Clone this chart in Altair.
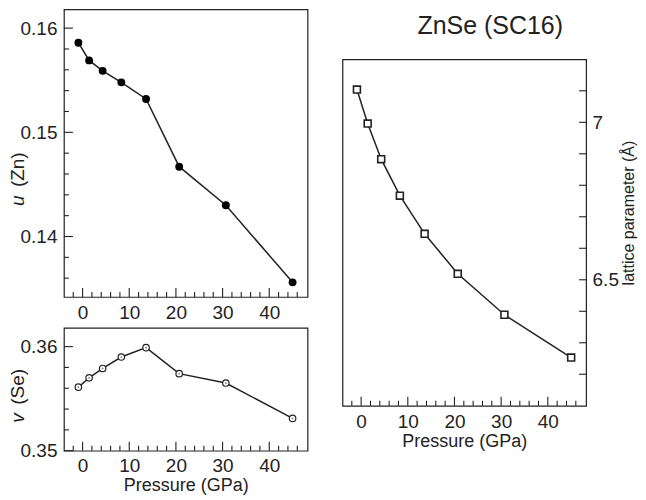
import altair as alt
import pandas as pd

# ---- data ----
pressure = [-0.9, 1.4, 4.3, 8.3, 13.6, 20.7, 30.7, 45.0]
u_zn = [0.1586, 0.1569, 0.1559, 0.1548, 0.1532, 0.1467, 0.1430, 0.1356]
v_se = [0.3561, 0.3570, 0.3579, 0.3590, 0.3599, 0.3574, 0.3565, 0.3531]
lattice = [7.104, 6.996, 6.883, 6.767, 6.646, 6.519, 6.389, 6.253]

x_major = [0, 10, 20, 30, 40]
x_minor = [-2, 2, 4, 6, 8, 12, 14, 16, 18, 22, 24, 26, 28, 32, 34, 36, 38, 42, 44, 46]
u_major = [0.14, 0.15, 0.16]
u_minor = [0.136, 0.138, 0.142, 0.144, 0.146, 0.148, 0.152, 0.154, 0.156, 0.158]
v_major = [0.35, 0.36]
v_minor = [0.352, 0.354, 0.356, 0.358]
a_major = [6.5, 7.0]
a_minor = [6.2, 6.3, 6.4, 6.6, 6.7, 6.8, 6.9, 7.1]

title_text = ["ZnSe (SC16)"]
x_title = "Pressure (GPa)"
u_sym, u_rest = ["u"], ["(Zn)"]
v_sym, v_rest = ["v"], ["(Se)"]
a_title = ["lattice parameter (Å)"]

INK = "#222222"
FONT = "Liberation Sans"
W = 244
H_TOP, H_BOT, H_RIGHT = 288, 123, 347

df = pd.DataFrame({"P": pressure, "u": u_zn, "v": v_se, "a": lattice})
xs = alt.Scale(domain=[-4, 48.2], nice=False, zero=False)


def ticks_df(vals):
    return pd.DataFrame({"t": vals})


def x_axis(title="", pad=7):
    return alt.Axis(values=x_major, format="d", ticks=False, tickSize=0, domain=False,
                    grid=False, labelPadding=pad, labelFlush=False, title=title,
                    titlePadding=1, titleFontSize=18)


def y_axis(values, fmt, orient="left", pad=7):
    return alt.Axis(values=values, format=fmt, orient=orient, ticks=False, tickSize=0,
                    domain=False, grid=False, labelPadding=pad, title="")


def x_ticks(height, xax):
    major = alt.Chart(ticks_df(x_major)).mark_rule(color=INK, strokeWidth=1.1).encode(
        x=alt.X("t:Q", scale=xs, axis=xax), y=alt.value(height), y2=alt.value(height - 9))
    minor = alt.Chart(ticks_df(x_minor)).mark_rule(color=INK, strokeWidth=1.1).encode(
        x=alt.X("t:Q", scale=xs, axis=xax), y=alt.value(height), y2=alt.value(height - 5))
    return [major, minor]


def y_ticks(majors, minors, ys, yax, left=True):
    x0 = 0 if left else W
    sgn = 1 if left else -1
    major = alt.Chart(ticks_df(majors)).mark_rule(color=INK, strokeWidth=1.1).encode(
        y=alt.Y("t:Q", scale=ys, axis=yax), x=alt.value(x0), x2=alt.value(x0 + sgn * (9 if left else 7)))
    minor = alt.Chart(ticks_df(minors)).mark_rule(color=INK, strokeWidth=1.1).encode(
        y=alt.Y("t:Q", scale=ys, axis=yax), x=alt.value(x0), x2=alt.value(x0 + sgn * (5 if left else 7)))
    return [major, minor]


def label(text, x, y, angle=270, align="left", size=19, style="normal"):
    return alt.Chart(pd.DataFrame({"s": text})).mark_text(
        angle=angle, align=align, baseline="middle", fontSize=size, fontStyle=style,
        font=FONT, color=INK).encode(text="s:N", x=alt.value(x), y=alt.value(y))


frame = alt.ViewBackground(stroke=INK, strokeWidth=1.2)

# ---- top-left: u(Zn) ----
ys_u = alt.Scale(domain=[0.1342, 0.1618], nice=False, zero=False)
xa_u = x_axis("", pad=7)
ya_u = y_axis(u_major, ".2f")
u_line = alt.Chart(df).mark_line(color=INK, strokeWidth=1.5).encode(
    x=alt.X("P:Q", scale=xs, axis=xa_u), y=alt.Y("u:Q", scale=ys_u, axis=ya_u))
u_pts = alt.Chart(df).mark_circle(color="#000000", size=62, opacity=1).encode(
    x=alt.X("P:Q", scale=xs, axis=xa_u), y=alt.Y("u:Q", scale=ys_u, axis=ya_u))
top = alt.layer(
    u_line, u_pts, *x_ticks(H_TOP, xa_u), *y_ticks(u_major, u_minor, ys_u, ya_u),
    label(u_sym, -46, 197, style="italic"), label(u_rest, -46, 178),
).properties(width=W, height=H_TOP, view=frame)

# ---- bottom-left: v(Se) ----
ys_v = alt.Scale(domain=[0.35, 0.3618], nice=False, zero=False)
xa_v = x_axis(x_title, pad=6)
ya_v = y_axis(v_major, ".2f")
v_line = alt.Chart(df).mark_line(color=INK, strokeWidth=1.5).encode(
    x=alt.X("P:Q", scale=xs, axis=xa_v), y=alt.Y("v:Q", scale=ys_v, axis=ya_v))
v_pts = alt.Chart(df).mark_point(shape="circle", filled=True, fill="#ffffff", stroke=INK,
                                 strokeWidth=1.2, size=42, opacity=1).encode(
    x=alt.X("P:Q", scale=xs, axis=xa_v), y=alt.Y("v:Q", scale=ys_v, axis=ya_v))
v_dot = alt.Chart(df).mark_circle(color="#777777", size=3, opacity=1).encode(
    x=alt.X("P:Q", scale=xs, axis=xa_v), y=alt.Y("v:Q", scale=ys_v, axis=ya_v))
bottom = alt.layer(
    v_line, v_pts, v_dot, *x_ticks(H_BOT, xa_v), *y_ticks(v_major, v_minor, ys_v, ya_v),
    label(v_sym, -46, 95, style="italic"), label(v_rest, -46, 77),
).properties(width=W, height=H_BOT, view=frame)

# ---- right: lattice parameter ----
ys_a = alt.Scale(domain=[6.1, 7.2], nice=False, zero=False)
xa_a = x_axis(x_title, pad=7)
ya_a = y_axis(a_major, "~g", orient="right", pad=6)
a_line = alt.Chart(df).mark_line(color=INK, strokeWidth=1.5).encode(
    x=alt.X("P:Q", scale=xs, axis=xa_a), y=alt.Y("a:Q", scale=ys_a, axis=ya_a))
a_pts = alt.Chart(df).mark_point(shape="square", filled=True, fill="#ffffff", stroke=INK,
                                 strokeWidth=1.6, size=48, opacity=1).encode(
    x=alt.X("P:Q", scale=xs, axis=xa_a), y=alt.Y("a:Q", scale=ys_a, axis=ya_a))
right = alt.layer(
    a_line, a_pts, *x_ticks(H_RIGHT, xa_a), *y_ticks(a_major, a_minor, ys_a, ya_a, left=False),
    label(a_title, W + 43, 154, align="center", size=16),
).properties(width=W, height=H_RIGHT, view=frame)

title_cell = alt.Chart(pd.DataFrame({"s": title_text})).mark_text(
    fontSize=25, font=FONT, color=INK, align="center", baseline="middle").encode(
    text="s:N", x=alt.value(148), y=alt.value(17)
).properties(width=W, height=40, view=alt.ViewBackground(stroke="transparent"))

chart = alt.hconcat(
    alt.vconcat(top, bottom, spacing=3),
    alt.vconcat(title_cell, right, spacing=8),
    spacing=33,
).properties(
    padding={"left": 0, "top": 0, "right": 0, "bottom": 0}
).configure(font=FONT).configure_axis(
    labelFont=FONT, labelFontSize=19, labelColor=INK,
    titleFont=FONT, titleFontSize=19, titleColor=INK, titleFontWeight="normal",
)

chart.save("out.html", embed_options={"renderer": "svg", "actions": False})
